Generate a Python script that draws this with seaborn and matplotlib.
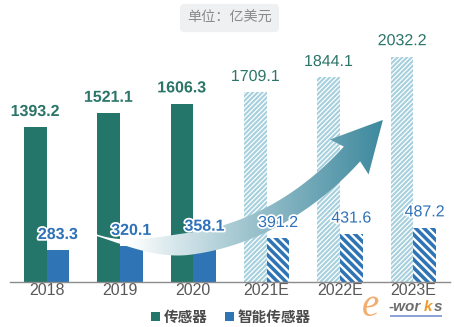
import numpy as np
import pandas as pd
import matplotlib
matplotlib.use("Agg")
import matplotlib.pyplot as plt
import matplotlib.transforms as mtransforms
import matplotlib.patheffects as pe
from matplotlib.patches import Polygon, Patch, Rectangle
from matplotlib.collections import PatchCollection
import seaborn as sns

# ---- data (亿美元) ----
years = ["2018", "2019", "2020", "2021E", "2022E", "2023E"]
sensors = [1393.2, 1521.1, 1606.3, 1709.1, 1844.1, 2032.2]
smart_sensors = [283.3, 320.1, 358.1, 391.2, 431.6, 487.2]
series_names = ["传感器", "智能传感器"]
estimated = [False, False, False, True, True, True]

GREEN = "#25766a"
BLUE = "#2f74b5"
LIGHT = "#a6d0dd"
LABEL_GREEN = "#2b7569"
LABEL_BLUE = "#2f72b8"
TICK_GRAY = "#595959"

sns.set_theme(style="white")
plt.rcParams["font.family"] = ["Liberation Sans", "Noto Sans CJK SC", "DejaVu Sans"]

W, H = 454, 327
fig = plt.figure(figsize=(W / 100, H / 100), dpi=100)

# axes geometry in pixels
base_px = 281.7
top_px = 40
ax = fig.add_axes([10 / W, 1 - base_px / H, 440 / W, (base_px - top_px) / H])

df = pd.DataFrame({
    "year": years * 2,
    "value": sensors + smart_sensors,
    "series": [series_names[0]] * len(years) + [series_names[1]] * len(years),
})
sns.barplot(data=df, x="year", y="value", hue="series", hue_order=series_names,
            palette=[GREEN, BLUE], width=0.62, saturation=1, errorbar=None,
            legend=False, ax=ax, zorder=2)

ax.set_xlim(-0.5, len(years) - 0.5)
ax.set_ylim(0, (base_px - top_px) / 0.1108)
ax.set_xlabel("")
ax.set_ylabel("")
ax.set_yticks([])
for s in ["left", "right", "top"]:
    ax.spines[s].set_visible(False)
ax.spines["bottom"].set_color("#8c8c8c")
ax.spines["bottom"].set_linewidth(1.0)
ax.set_xticks(range(len(years)))
ax.set_xticklabels(years, fontsize=11.5, color=TICK_GRAY)
ax.tick_params(axis="x", which="major", length=0, pad=1)
ax.set_xticks(np.arange(-0.5, len(years)), minor=True)
ax.tick_params(axis="x", which="minor", length=3.5, width=1, color="#8c8c8c", direction="out")

# hatched style for estimated years
green_bars = ax.containers[0]
blue_bars = ax.containers[1]
for i, est in enumerate(estimated):
    if not est:
        continue
    gb = green_bars[i]
    gb.set_facecolor(LIGHT)
    gb.set_edgecolor("white")
    gb.set_hatch("///////")
    if hasattr(gb, "set_hatch_linewidth"):
        gb.set_hatch_linewidth(0.9)
    bb = blue_bars[i]
    bb.set_facecolor(BLUE)
    bb.set_edgecolor("white")
    bb.set_hatch("\\\\\\\\")
    if hasattr(bb, "set_hatch_linewidth"):
        bb.set_hatch_linewidth(1.7)
for b in list(green_bars) + list(blue_bars):
    b.set_linewidth(0)

# value labels
halo = [pe.withStroke(linewidth=2.5, foreground="white")]
for bars, vals, col in [(green_bars, sensors, LABEL_GREEN), (blue_bars, smart_sensors, LABEL_BLUE)]:
    for i, (bar, v) in enumerate(zip(bars, vals)):
        x = bar.get_x() + bar.get_width() / 2
        ax.annotate(f"{v:.1f}", (x, v), xytext=(0, 6), textcoords="offset points",
                    ha="center", va="bottom", fontsize=11.5, color=col,
                    fontweight="normal" if estimated[i] else "bold",
                    path_effects=halo, zorder=6, annotation_clip=False)

# ---- growth arrow (pixel coordinates, y downward) ----
pix = mtransforms.Affine2D().scale(1 / W, -1 / H).translate(0, 1) + fig.transFigure

P0 = np.array([76.0, 227.0])
P1 = np.array([165.0, 268.0])
P2 = np.array([274.0, 240.0])
P3 = np.array([352.0, 154.0])
t = np.linspace(0, 1, 120)[:, None]
curve = (1 - t) ** 3 * P0 + 3 * (1 - t) ** 2 * t * P1 + 3 * (1 - t) * t ** 2 * P2 + t ** 3 * P3
deriv = 3 * (1 - t) ** 2 * (P1 - P0) + 6 * (1 - t) * t * (P2 - P1) + 3 * t ** 2 * (P3 - P2)
tang = deriv / np.linalg.norm(deriv, axis=1, keepdims=True)
norm = np.column_stack([-tang[:, 1], tang[:, 0]])
tt = t[:, 0]
s = np.clip((tt - 0.08) / 0.32, 0, 1)
width = 1.5 + 20.5 * (3 * s ** 2 - 2 * s ** 3)
upper = curve + norm * (width[:, None] / 2)
lower = curve - norm * (width[:, None] / 2)
d = tang[-1]
n = norm[-1]
head_base = P3 - d * 4
barb1 = head_base + n * 26
barb2 = head_base - n * 26
tip = P3 + d * 46
outline = np.vstack([upper, [barb1], [tip], [barb2], lower[::-1]])
arrow = Polygon(outline, closed=True, transform=pix, facecolor="none",
                edgecolor="none", zorder=3)
ax.add_patch(arrow)

x0, x1 = 130.0, 385.0
c_start = np.array([1.0, 1.0, 1.0])
c_end = np.array(matplotlib.colors.to_rgb("#3b879c"))
strips = []
cols = []
for xs in np.arange(60, 400, 1.5):
    f = np.clip((xs - x0) / (x1 - x0), 0, 1) ** 0.9
    strips.append(Rectangle((xs, 100), 1.6, 170))
    cols.append(c_start + (c_end - c_start) * f)
pc = PatchCollection(strips, facecolors=cols, edgecolors="none", transform=pix, zorder=3)
ax.add_collection(pc)
pc.set_clip_path(arrow)

# ---- unit box ----
fig.text(229.5 / W, 1 - 18 / H, "单位：亿美元", ha="center", va="center",
         fontsize=10.2, color="#8a8a8a", family=["Noto Sans CJK SC", "DejaVu Sans"],
         bbox=dict(boxstyle="round,pad=0.5,rounding_size=0.3", facecolor="#eff0f2",
                   edgecolor="none"))

# ---- legend ----
handles = [Patch(facecolor=GREEN, edgecolor="none"), Patch(facecolor=BLUE, edgecolor="none")]
leg = fig.legend(handles, series_names, loc="center", bbox_to_anchor=(231 / W, 1 - 317 / H),
                 ncol=2, frameon=False, handlelength=0.6, handleheight=0.6,
                 handletextpad=0.25, columnspacing=1.2, borderaxespad=0,
                 prop={"family": ["Noto Sans CJK SC", "DejaVu Sans"], "size": 10.5,
                       "weight": "bold"})
for txt in leg.get_texts():
    txt.set_color("#4a4a4a")

# ---- e-works mark ----
fig.text(362 / W, 1 - 306 / H, "e", fontsize=28, color="#f2a45e", style="italic",
         family="Liberation Serif", ha="left", va="center", alpha=0.9)
fig.text(389 / W, 1 - 307 / H, "-wor", fontsize=11, color="#6e6e6e", style="italic",
         fontweight="bold", ha="left", va="center")
fig.text(424 / W, 1 - 307 / H, "k", fontsize=11, color="#ef9a2a", style="italic",
         fontweight="bold", ha="left", va="center")
fig.text(434 / W, 1 - 307 / H, "s", fontsize=11, color="#6e6e6e", style="italic",
         fontweight="bold", ha="left", va="center")
fig.add_artist(Rectangle((390, 315), 52, 2.2, transform=pix, facecolor="#8da3d6",
                         edgecolor="none"))

fig.savefig("out.png", dpi=100)
